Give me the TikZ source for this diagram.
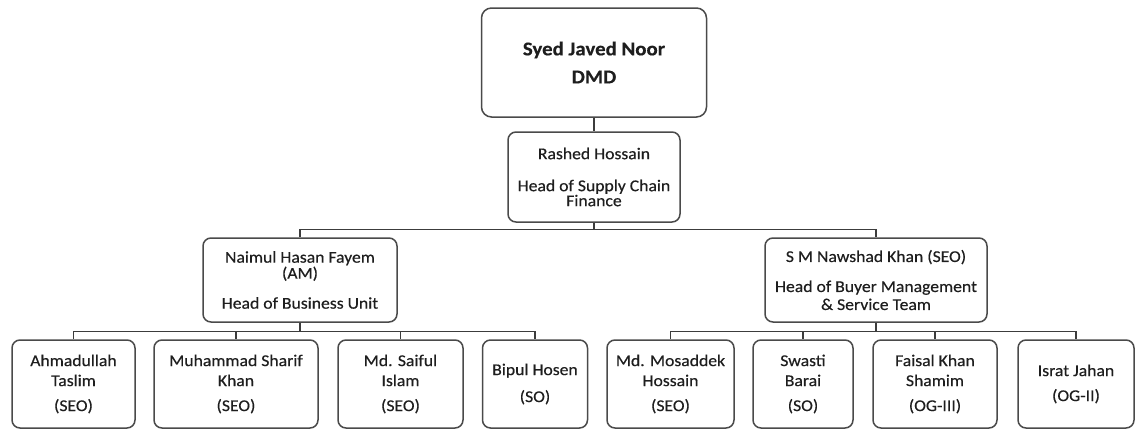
\documentclass[tikz,border=0pt]{standalone}
\usepackage{fontspec}
\setmainfont{Carlito}[FakeStretch=1.07, FakeBold=0.4]
\definecolor{boxline}{HTML}{4A4A4A}
\definecolor{linegray}{HTML}{3C3C3C}
\definecolor{txt}{HTML}{1E1E1E}
\tikzset{
  person/.style={draw=boxline, line width=1.5pt, rounded corners=8pt,
    align=center, text=txt, inner sep=0pt, minimum height=88pt,
    font=\fontsize{16.5}{20}\selectfont},
}
\begin{document}
\begin{tikzpicture}[x=1pt,y=-1pt]
  \useasboundingbox (0,0) rectangle (1135,434);
  % top levels
  \node[person, minimum width=225pt, minimum height=109pt, rounded corners=10pt,
    font=\bfseries\fontsize{19.5}{28}\selectfont] (dmd) at (594,62.5) {Syed Javed Noor\\DMD};
  \node[person, minimum width=172pt, minimum height=90pt,
    font=\fontsize{16.5}{15}\selectfont] (rashed) at (594,177)
    {Rashed Hossain\\[17pt]Head of Supply Chain\\Finance};
  \node[person, minimum width=194pt, minimum height=84pt,
    font=\fontsize{16.5}{16}\selectfont] (naimul) at (300,280)
    {Naimul Hasan Fayem\\(AM)\\[14pt]Head of Business Unit};
  \node[person, minimum width=222pt, minimum height=84pt,
    font=\fontsize{16.5}{18}\selectfont] (nawshad) at (876,280)
    {S M Nawshad Khan (SEO)\\[12pt]Head of Buyer Management\\\& Service Team};
  % bottom row
  \node[person, minimum width=123pt] (ahmad) at (73.5,384) {Ahmadullah\\Taslim\\[5pt](SEO)};
  \node[person, minimum width=164pt] (sharif) at (236,384) {Muhammad Sharif\\Khan\\[5pt](SEO)};
  \node[person, minimum width=125pt] (saiful) at (400.5,384) {Md. Saiful\\Islam\\[5pt](SEO)};
  \node[person, minimum width=105pt] (bipul) at (535,384) {Bipul Hosen\\[7pt](SO)};
  \node[person, minimum width=127pt] (mosaddek) at (670.5,384) {Md. Mosaddek\\Hossain\\[5pt](SEO)};
  \node[person, minimum width=100pt] (swasti) at (803,384) {Swasti\\Barai\\[5pt](SO)};
  \node[person, minimum width=124pt] (faisal) at (935,384) {Faisal Khan\\Shamim\\[5pt](OG-III)};
  \node[person, minimum width=116pt] (israt) at (1076,384) {Israt Jahan\\[5pt](OG-II)};
  \begin{scope}[line width=1.4pt, draw=linegray]
    \draw (dmd) -- (rashed);
    \draw (rashed.south) -- ++(0,7) coordinate (j0);
    \draw (naimul.north) |- (j0) -| (nawshad.north);
    \draw (naimul.south) -- ++(0,9) coordinate (j1);
    \foreach \n in {ahmad,sharif,saiful,bipul}
      \draw (j1) -| (\n.north);
    \draw (nawshad.south) -- ++(0,9) coordinate (j2);
    \foreach \n in {mosaddek,swasti,faisal,israt}
      \draw (j2) -| (\n.north);
  \end{scope}
\end{tikzpicture}
\end{document}
